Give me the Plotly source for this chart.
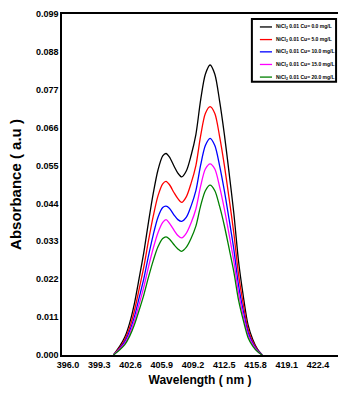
import plotly.graph_objects as go

wavelength = [400.8, 401.5, 402.0, 402.5, 403.0, 403.5, 404.0, 404.5, 405.0, 405.5,
              406.0, 406.35, 406.7, 407.2, 407.6, 408.0, 408.5, 409.0, 409.5, 410.0,
              410.5, 411.0, 411.5, 412.0, 412.5, 413.0, 413.5, 414.0, 414.5, 415.0,
              415.5, 416.0, 416.5]

abs_cu_0 = [0.0, 0.0027, 0.0052, 0.0092, 0.0148, 0.0221, 0.0297, 0.0386, 0.0469, 0.0537,
            0.0578, 0.0585, 0.0575, 0.0548, 0.0528, 0.0517, 0.0535, 0.0580, 0.0640, 0.0740,
            0.0815, 0.0842, 0.0815, 0.0738, 0.0642, 0.0530, 0.0413, 0.0273, 0.0172, 0.0088,
            0.0045, 0.0017, 0.0]
abs_cu_5 = [0.0, 0.0023, 0.0045, 0.0079, 0.0127, 0.0190, 0.0255, 0.0332, 0.0403, 0.0462,
            0.0497, 0.0504, 0.0495, 0.0471, 0.0454, 0.0443, 0.0460, 0.0499, 0.0550, 0.0636,
            0.0701, 0.0721, 0.0701, 0.0635, 0.0552, 0.0456, 0.0355, 0.0235, 0.0148, 0.0076,
            0.0039, 0.0015, 0.0]
abs_cu_10 = [0.0, 0.0020, 0.0039, 0.0069, 0.0110, 0.0165, 0.0221, 0.0288, 0.0349, 0.0400,
             0.0428, 0.0432, 0.0426, 0.0406, 0.0393, 0.0388, 0.0400, 0.0433, 0.0477, 0.0551,
             0.0608, 0.0629, 0.0608, 0.0550, 0.0478, 0.0395, 0.0308, 0.0203, 0.0128, 0.0066,
             0.0034, 0.0013, 0.0]
abs_cu_15 = [0.0, 0.0018, 0.0034, 0.0061, 0.0098, 0.0146, 0.0197, 0.0256, 0.0310, 0.0355,
             0.0385, 0.0393, 0.0383, 0.0362, 0.0347, 0.0340, 0.0354, 0.0384, 0.0424, 0.0490,
             0.0540, 0.0555, 0.0540, 0.0489, 0.0425, 0.0351, 0.0273, 0.0181, 0.0114, 0.0058,
             0.0030, 0.0011, 0.0]
abs_cu_20 = [0.0, 0.0016, 0.0030, 0.0054, 0.0087, 0.0129, 0.0174, 0.0226, 0.0274, 0.0314,
             0.0338, 0.0343, 0.0337, 0.0320, 0.0308, 0.0301, 0.0313, 0.0339, 0.0374, 0.0433,
             0.0477, 0.0493, 0.0477, 0.0432, 0.0376, 0.0310, 0.0242, 0.0160, 0.0101, 0.0051,
             0.0026, 0.0010, 0.0]

series_names = ["NiCl<sub>2</sub> 0.01 Cu= 0.0 mg/L",
                "NiCl<sub>2</sub> 0.01 Cu= 5.0 mg/L",
                "NiCl<sub>2</sub> 0.01 Cu= 10.0 mg/L",
                "NiCl<sub>2</sub> 0.01 Cu= 15.0 mg/L",
                "NiCl<sub>2</sub> 0.01 Cu= 20.0 mg/L"]
series_colors = ["#000000", "#ff0000", "#0000ff", "#ff00ff", "#008000"]

x_tickvals = [396.0, 399.3, 402.6, 405.9, 409.2, 412.5, 415.8, 419.1, 422.4]
x_ticktext = ["396.0", "399.3", "402.6", "405.9", "409.2", "412.5", "415.8", "419.1", "422.4"]
y_tickvals = [0.0, 0.011, 0.022, 0.033, 0.044, 0.055, 0.066, 0.077, 0.088, 0.099]
y_ticktext = ["0.000", "0.011", "0.022", "0.033", "0.044", "0.055", "0.066", "0.077", "0.088", "0.099"]

fig = go.Figure()
all_series = [abs_cu_0, abs_cu_5, abs_cu_10, abs_cu_15, abs_cu_20]
for vals, name, col in zip(all_series, series_names, series_colors):
    fig.add_trace(go.Scatter(x=wavelength, y=vals, mode="lines", name=name,
                             line=dict(color=col, width=1.3, shape="spline", smoothing=0.8)))

font_main = "Liberation Sans, Arial, sans-serif"

# compact legend box (paper coordinates)
shapes = [dict(type="rect", xref="paper", yref="paper", x0=0.688, x1=0.993, y0=0.801, y1=0.985,
               line=dict(color="black", width=2), fillcolor="white", layer="above")]
annotations = []
row_y = [0.962, 0.925, 0.889, 0.852, 0.815]
for ry, name, col in zip(row_y, series_names, series_colors):
    shapes.append(dict(type="line", xref="paper", yref="paper", x0=0.717, x1=0.761, y0=ry, y1=ry,
                       line=dict(color=col, width=1.3), layer="above"))
    annotations.append(dict(xref="paper", yref="paper", x=0.768, y=ry, xanchor="left", yanchor="middle",
                            text=name, showarrow=False,
                            font=dict(family=font_main, size=5, color="black", weight="bold")))

fig.update_layout(
    width=338, height=394,
    margin=dict(l=62, r=0, t=14, b=39),
    paper_bgcolor="white", plot_bgcolor="white",
    showlegend=False,
    shapes=shapes, annotations=annotations,
    xaxis=dict(range=[395.37, 424.5], tickvals=x_tickvals, ticktext=x_ticktext,
               showgrid=False, zeroline=False, showline=True, linecolor="black",
               linewidth=1.5, mirror=True, ticks="",
               tickfont=dict(family=font_main, size=9, color="black", weight="bold"),
               title=dict(text="Wavelength ( nm )", standoff=7,
                          font=dict(family=font_main, size=12, color="black", weight="bold"))),
    yaxis=dict(range=[0, 0.099], tickvals=y_tickvals, ticktext=y_ticktext,
               showgrid=False, zeroline=False, showline=True, linecolor="black",
               linewidth=1.5, ticks="",
               tickfont=dict(family=font_main, size=9, color="black", weight="bold"),
               title=dict(text="Absorbance ( a.u )", standoff=11,
                          font=dict(family=font_main, size=15, color="black", weight="bold"))),
)

fig.write_html("out.html", config={"displayModeBar": False},
               post_script="document.body.style.margin='0px';")
